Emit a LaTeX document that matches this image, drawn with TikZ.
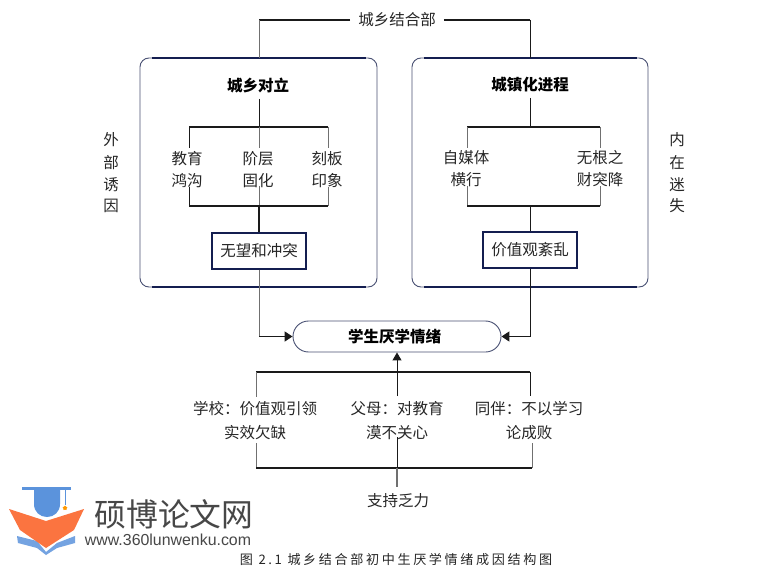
\documentclass[tikz,border=0pt]{standalone}
\usepackage{fontspec}
\setmainfont{Noto Sans CJK SC}
\newfontfamily\capfont[LetterSpace=20]{Noto Sans CJK SC}
\newfontfamily\latinlogo{Liberation Sans}
\usetikzlibrary{arrows.meta,shapes.misc,shapes.geometric}
\definecolor{navy}{HTML}{141E50}
\definecolor{edgeb}{HTML}{4A5274}
\definecolor{ln}{HTML}{1A1A1A}
\definecolor{lng}{HTML}{707070}
\definecolor{txt}{HTML}{262626}
\definecolor{logoblue}{HTML}{5B93DC}
\definecolor{logoorange}{HTML}{FB7440}
\tikzset{
  x=1pt,y=-1pt,
  lab/.style={font=\fontsize{15.5}{17}\selectfont,text=txt,inner sep=0pt,anchor=center,yshift=-1pt},
  title/.style={font=\fontsize{15.5}{17}\selectfont\bfseries,text=black,inner sep=0pt,anchor=center},
  hbar/.style={draw=ln,line width=1.6pt},
  vbar/.style={draw=ln,line width=1pt},
  vgray/.style={draw=lng,line width=1pt},
  arr/.style={draw=ln,line width=1pt,-{Triangle[length=8pt,width=9pt]}},
  arrh/.style={draw=ln,line width=1.5pt,-{Triangle[length=8pt,width=10pt]}},
  outer/.style={draw=edgeb,line width=.9pt,rounded corners=9pt},
  innerb/.style={draw=navy,line width=1.1pt,fill=white,inner sep=0pt,minimum width=94pt,minimum height=36pt,font=\fontsize{15.5}{17}\selectfont,text=txt},
  pill/.style={rounded rectangle,draw=edgeb,line width=.9pt,fill=white,minimum width=208pt,minimum height=31pt,inner sep=0pt,font=\fontsize{15.5}{17}\selectfont\bfseries},
}
\begin{document}
\begin{tikzpicture}
\useasboundingbox[fill=white] (0,0) rectangle (770,577);
% outer frames
\draw[outer] (140,58) rectangle (377,287);
\draw[outer] (412,58) rectangle (648,287);
\draw[navy,line width=1.4pt] (152,58)--(366,58) (152,287)--(366,287);
\draw[navy,line width=1.4pt] (424,58)--(637,58) (424,287)--(637,287);
% text
\node[lab] (top) at (397,19) {城乡结合部};
\node[title] (tl) at (258,85.5) {城乡对立};
\node[title] (tr) at (530,84.5) {城镇化进程};
\node[lab] (a1) at (187,158) {教育};
\node[lab] (a2) at (187,180) {鸿沟};
\node[lab] (b1) at (258,158) {阶层};
\node[lab] (b2) at (258,180) {固化};
\node[lab] (c1) at (327,158) {刻板};
\node[lab] (c2) at (327,180) {印象};
\node[lab] (d1) at (466,157) {自媒体};
\node[lab] (d2) at (466,179) {横行};
\node[lab] (e1) at (600,157) {无根之};
\node[lab] (e2) at (600,179) {财突降};
\node[lab] (s1) at (255,408) {学校：价值观引领};
\node[lab] (s2) at (255,432) {实效欠缺};
\node[lab] (p1) at (397,408) {父母：对教育};
\node[lab] (p2) at (397,432) {漠不关心};
\node[lab] (f1) at (529,408) {同伴：不以学习};
\node[lab] (f2) at (529,432) {论成败};
\node[lab] (sup) at (398,500) {支持乏力};
\foreach \t/\y/\n in {外/139/o1,部/162/o2,诱/184/o3,因/205/o4}
  \node[lab] (\n) at (111,\y) {\t};
\foreach \t/\y/\n in {内/139/i1,在/162/i2,迷/184/i3,失/205/i4}
  \node[lab] (\n) at (677,\y) {\t};
% boxes
\node[innerb] (bl) at (259,251) {无望和冲突};
\node[innerb] (br) at (530,250) {价值观紊乱};
\node[pill] (goal) at (397,336.5) {\hbox{学生厌学情绪\kern5pt}};
% coordinates
\coordinate (tlj) at (259,127); \coordinate (trj) at (530,127);
\coordinate (blj) at (259,206); \coordinate (brj) at (530,206);
\coordinate (topL) at (259,20); \coordinate (topR) at (530,20);
\coordinate (frL) at (259,58); \coordinate (frR) at (530,58);
\coordinate (elbL) at (259,336.5); \coordinate (elbR) at (530,336.5);
\coordinate (upj) at (397,372); \coordinate (loj) at (397,468);
% top bracket
\draw[hbar] (top.west)++(-8,0) -- (topL);
\draw[hbar] (top.east)++(8,0) -- (topR);
\draw[vgray] (topL) -- (frL);
\draw[vbar] (topR) -- (frR);
% left column
\draw[vbar] (259,99) -- (tlj);
\draw[hbar] (189,127) -- (328,127);
\draw[vbar] (189,127) -- (189,148);
\draw[vgray] (259,127) -- (259,148);
\draw[vgray] (328,127) -- (328,148);
\draw[vbar] (189,187) -- (189,206);
\draw[vgray] (259,186) -- (blj);
\draw[vgray] (328,187) -- (328,206);
\draw[hbar] (189,206) -- (328,206);
\draw[vbar,line width=1.2pt] (blj) -- (bl.north);
\draw[vgray] (bl.south) -- (elbL);
\draw[arrh] (elbL) -- (goal.west);
% right column
\draw[vbar] (530,98) -- (trj);
\draw[hbar] (467,127) -- (600,127);
\draw[vgray] (467,127) -- (467,148);
\draw[vgray] (600,127) -- (600,148);
\draw[vgray] (467,186) -- (467,206);
\draw[vgray] (600,186) -- (600,206);
\draw[hbar] (467,206) -- (600,206);
\draw[vbar] (brj) -- (br.north);
\draw[vbar] (br.south) -- (elbR);
\draw[arrh] (elbR) -- (goal.east);
% bottom brackets
\draw[hbar] (256,372) -- (530,372);
\draw[vgray] (256,372) -- (256,397);
\draw[vbar] (530,372) -- (530,396);
\draw[arr] (397,396) -- (goal.south);
\draw[vgray] (256,443) -- (256,468);
\draw[vgray] (532,443) -- (532,468);
\draw[hbar] (256,468) -- (532,468);
\draw[vbar] (397,437) -- (loj);
\draw[vgray,line width=1.4pt] (loj) -- (397,487);
% logo
\fill[logoblue] (22,487) rectangle (71,490);
\fill[logoblue] (34,490) -- (60,490) -- (60,504) .. controls (60,512) and (54,517) .. (47,517) .. controls (40,517) and (34,512) .. (34,504) -- cycle;
\draw[logoblue,line width=.7pt] (65,489) -- (65,505);
\node[star,star points=5,fill=orange!80!yellow,inner sep=0pt,minimum size=5pt] (logostar) at (65,508) {};
\fill[logoblue!85] (17,536) -- (37,541) -- (46,552) -- (57,543) -- (75,536) -- (75,543) -- (57,548) -- (46,555) -- (37,548) -- (18,543) -- cycle;
\fill[logoorange] (9,509) -- (46,521) -- (84,509) -- (74,530) -- (46,548) -- (20,530) -- cycle;
\node[inner sep=0pt,text=txt!85!white,font=\fontsize{31.8}{34}\selectfont] (brand) at (174,514) {硕博论文网};
\node[inner sep=0pt,text=txt!85!white,font=\latinlogo\fontsize{15.9}{18}\selectfont] (url) at (168,540) {www.360lunwenku.com};
\node[inner sep=0pt,text=txt,font=\fontsize{13.1}{15}\selectfont\capfont] (cap) at (396,560) {图 2.1 城乡结合部初中生厌学情绪成因结构图};
\end{tikzpicture}
\end{document}
